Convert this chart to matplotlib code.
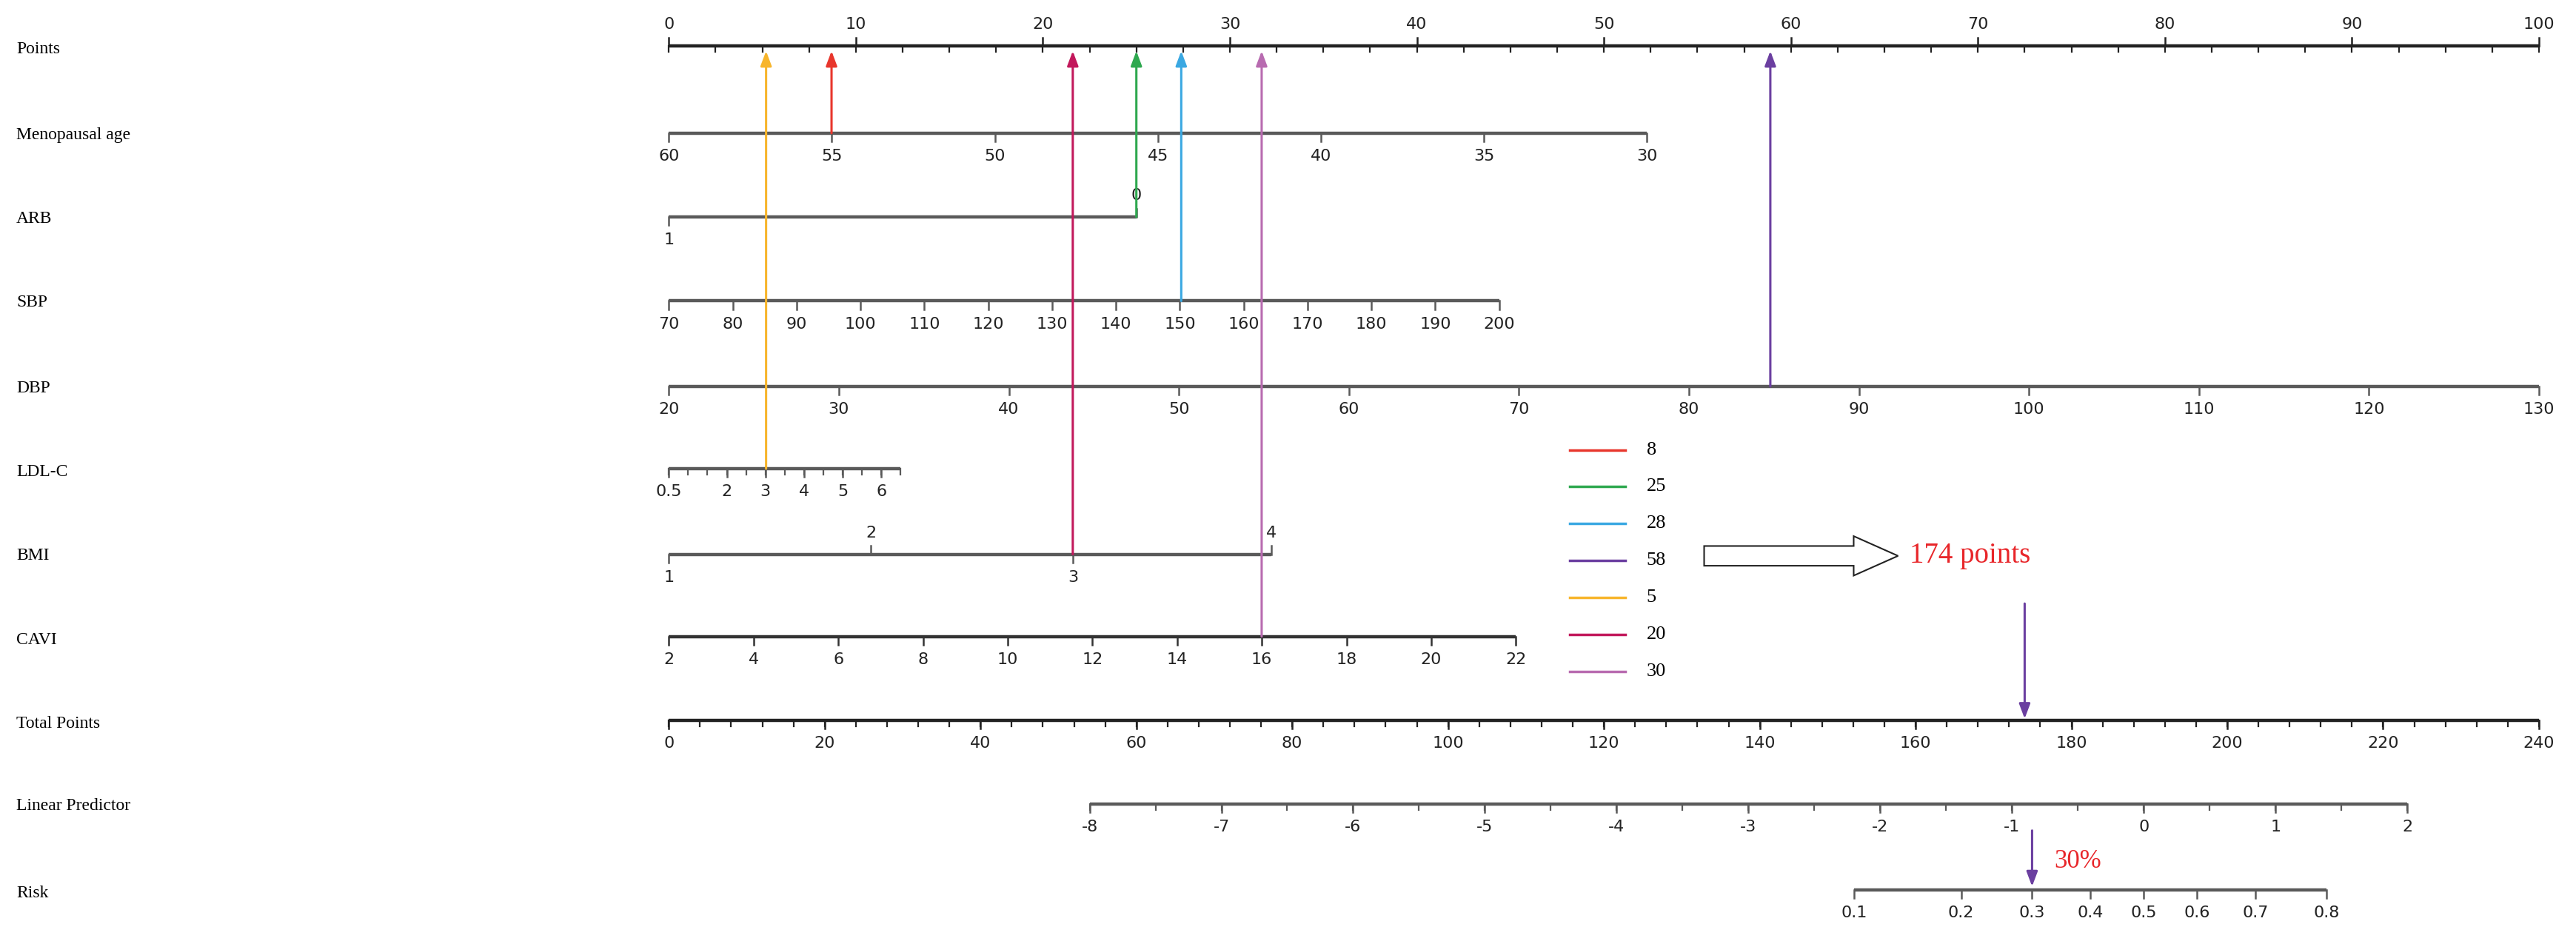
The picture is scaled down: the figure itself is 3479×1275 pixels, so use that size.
import numpy as np
import matplotlib
matplotlib.use("Agg")
import matplotlib.pyplot as plt
from matplotlib.patches import FancyArrow

# ---------------- data ----------------
row_names = ["Points", "Menopausal age", "ARB", "SBP", "DBP", "LDL-C", "BMI", "CAVI",
             "Total Points", "Linear Predictor", "Risk"]

points_ticks = list(range(0, 101, 10))
meno_vals = [60, 55, 50, 45, 40, 35, 30]; meno_max_pts = 52.3   # 60 -> 0, 30 -> 52.3
arb_vals = [1, 0]; arb_pts = [0, 25.0]
sbp_vals = list(range(70, 201, 10)); sbp_max_pts = 44.4         # 70 -> 0, 200 -> 44.4
dbp_vals = list(range(20, 131, 10))                              # 20 -> 0, 130 -> 100
ldl_labels = [0.5, 2, 3, 4, 5, 6]; ldl_minor = list(np.arange(0.5, 6.51, 0.5)); ldl_max_pts = 12.4
bmi_vals = [1, 2, 3, 4]; bmi_pts = [0, 10.8, 21.6, 32.2]
cavi_vals = list(range(2, 23, 2)); cavi_max_pts = 45.3
total_ticks = list(range(0, 241, 20))
lp_ticks = list(range(-8, 3)); lp_tp = (54.0, 223.1)             # LP -8 at 54 TP, 2 at 223.1 TP
risk_ticks = [0.1, 0.2, 0.3, 0.4, 0.5, 0.6, 0.7, 0.8]

legend_labels = ["8", "25", "28", "58", "5", "20", "30"]
legend_colors = ["#e8362c", "#2ea84f", "#3aa8e2", "#6b3fa0", "#f7b52c", "#c2185b", "#b86bb0"]
# arrows: (points value on Points axis, start row)
arrow_pts = [8.7, 25.0, 27.4, 58.9, 5.2, 21.6, 31.7]
arrow_rows = [1, 2, 3, 4, 5, 6, 7]
total_points = 174
risk_value = 0.3

# ---------------- layout ----------------
W, H = 3480, 1275
PX0, PPP = 407, 11.38        # points 0 at overview x, overview px per point
row_y = [28, 81, 132, 183, 235, 285, 337, 387, 438, 489, 541]
label_y = [30, 82, 133, 184, 236, 287, 338, 389, 440, 490, 543]

fig = plt.figure(figsize=(W / 100, H / 100), dpi=100)
ax = fig.add_axes([0, 0, 1, 1])
ax.set_xlim(-PX0 / PPP, (1568 - PX0) / PPP)
ax.set_ylim(574, 0)
ax.axis("off")

serif = "Liberation Serif"
sans = "Liberation Sans Narrow"
tick_fs = 16
gray = "#5a5a5a"

for name, y in zip(row_names, label_y):
    ax.text(10 / PPP - PX0 / PPP, y, name, fontsize=17, family=serif, va="center", ha="left")


def scale(y, pos, labels, above=None, minor=None, color=gray, lw=3.2, tl=5):
    ax.plot([min(pos + (minor or [])), max(pos + (minor or []))], [y, y], color=color, lw=lw,
            solid_capstyle="butt", zorder=2)
    if minor:
        for m in minor:
            ax.plot([m, m], [y, y + tl * 0.7], color=color, lw=1.6, zorder=2)
    for i, (p, lab) in enumerate(zip(pos, labels)):
        up = above is not None and above[i]
        ax.plot([p, p], [y, y - tl if up else y + tl], color=color, lw=1.8, zorder=2)
        ax.text(p, y - 13 if up else y + 14, lab, fontsize=tick_fs, family=sans,
                ha="center", va="center", color="#222222")


def fmt(v):
    return str(int(v)) if float(v).is_integer() else str(v)


# Points
scale(row_y[0], points_ticks, [str(v) for v in points_ticks], above=[True] * 11,
      minor=list(np.arange(0, 100.1, 2.5)), color="#222222")
# Menopausal age
scale(row_y[1], [(60 - v) / 30 * meno_max_pts for v in meno_vals], [str(v) for v in meno_vals])
# ARB
scale(row_y[2], arb_pts, [str(v) for v in arb_vals], above=[False, True])
# SBP
scale(row_y[3], [(v - 70) / 130 * sbp_max_pts for v in sbp_vals], [str(v) for v in sbp_vals])
# DBP
scale(row_y[4], [(v - 20) / 110 * 100 for v in dbp_vals], [str(v) for v in dbp_vals])
# LDL-C
ldl_f = lambda v: (v - 0.5) / 6.0 * ldl_max_pts
scale(row_y[5], [ldl_f(v) for v in ldl_labels], [fmt(v) for v in ldl_labels],
      minor=[ldl_f(v) for v in ldl_minor])
# BMI
scale(row_y[6], bmi_pts, [str(v) for v in bmi_vals], above=[False, True, False, True])
# CAVI
scale(row_y[7], [(v - 2) / 20 * cavi_max_pts for v in cavi_vals], [str(v) for v in cavi_vals],
      color="#333333")
# Total points
tp_f = lambda t: t * 100 / 240
scale(row_y[8], [tp_f(t) for t in total_ticks], [str(t) for t in total_ticks],
      minor=[tp_f(t) for t in range(0, 241, 4)], color="#222222")
# Linear predictor
lp_to_tp = lambda lp: lp_tp[0] + (lp + 8) * (lp_tp[1] - lp_tp[0]) / 10
scale(row_y[9], [tp_f(lp_to_tp(v)) for v in lp_ticks], [str(v) for v in lp_ticks],
      minor=[tp_f(lp_to_tp(v)) for v in np.arange(-8, 2.01, 0.5)])
# Risk
logit = lambda p: np.log(p / (1 - p))
scale(row_y[10], [tp_f(lp_to_tp(logit(r))) for r in risk_ticks], [str(r) for r in risk_ticks])

# colored arrows
for p, r, c in zip(arrow_pts, arrow_rows, legend_colors):
    ax.annotate("", xy=(p, row_y[0] + 3), xytext=(p, row_y[r]),
                arrowprops=dict(arrowstyle="-|>,head_length=1.2,head_width=0.45", color=c, lw=2.2,
                                shrinkA=0, shrinkB=0), zorder=5)

# legend
for i, (lab, c) in enumerate(zip(legend_labels, legend_colors)):
    y = 273.5 + i * 22.5
    ax.plot([(955 - PX0) / PPP, (989 - PX0) / PPP], [y, y], color=c, lw=2.5)
    ax.text((1002 - PX0) / PPP, y, lab, fontsize=19, family=serif, va="center", ha="left")

# hollow arrow
ax.add_patch(FancyArrow((1037 - PX0) / PPP, 338, (1155 - 1037) / PPP, 0, width=12,
                        head_width=24, head_length=(1155 - 1128) / PPP, length_includes_head=True,
                        fc="white", ec="#222222", lw=1.5))
ax.text((1162 - PX0) / PPP, 338, f"{total_points} points", color="#e8262a", fontsize=28,
        family=serif, va="center", ha="left")

# total point arrows
xt = tp_f(total_points)
ax.annotate("", xy=(xt, row_y[8] - 1), xytext=(xt, 367),
            arrowprops=dict(arrowstyle="-|>,head_length=1.2,head_width=0.45", color="#6b3fa0",
                            lw=2.2, shrinkA=0, shrinkB=0))
xr = tp_f(lp_to_tp(logit(risk_value)))
ax.annotate("", xy=(xr, row_y[10] - 2), xytext=(xr, 505),
            arrowprops=dict(arrowstyle="-|>,head_length=1.2,head_width=0.45", color="#6b3fa0",
                            lw=2.2, shrinkA=0, shrinkB=0))
ax.text(xr + 1.2, 524, f"{int(risk_value * 100)}%", color="#e8262a", fontsize=25,
        family=serif, va="center", ha="left")

fig.savefig("out.png", dpi=100)
